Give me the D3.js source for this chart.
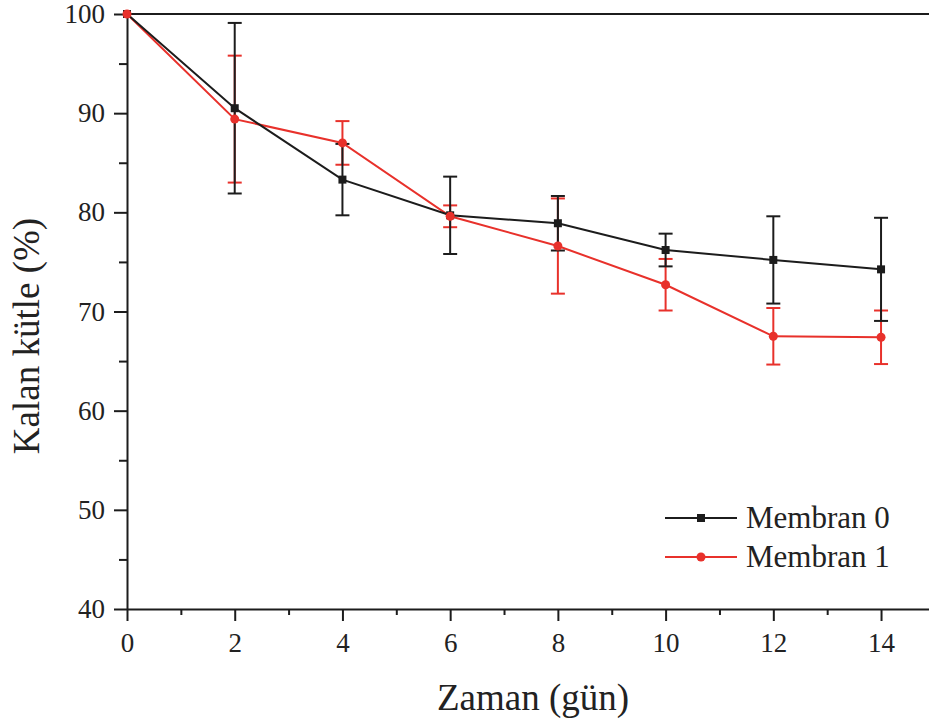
<!DOCTYPE html>
<html>
<head>
<meta charset="utf-8">
<script src="https://cdn.jsdelivr.net/npm/d3@7"></script>
<style>
  html, body { margin: 0; padding: 0; background: #fff; }
  svg { display: block; }
  text { font-family: "Liberation Serif", "Times New Roman", serif; fill: #222; }
</style>
</head>
<body>
<svg id="chart" width="929" height="725"></svg>
<script>
// ---- data ----
const days = [0, 2, 4, 6, 8, 10, 12, 14];
const membran0 = [100, 90.5, 83.3, 79.7, 78.9, 76.2, 75.2, 74.25];
const membran0Err = [0, 8.6, 3.6, 3.9, 2.75, 1.65, 4.4, 5.2];
const membran1 = [100, 89.4, 87.0, 79.6, 76.6, 72.7, 67.5, 67.4];
const membran1Err = [0, 6.4, 2.2, 1.1, 4.8, 2.6, 2.85, 2.7];
const seriesNames = ["Membran 0", "Membran 1"];
const xTicks = [0, 2, 4, 6, 8, 10, 12, 14];
const xMinorTicks = [1, 3, 5, 7, 9, 11, 13];
const yTicks = [40, 50, 60, 70, 80, 90, 100];
const yMinorTicks = [45, 55, 65, 75, 85, 95];
const xLabel = "Zaman (gün)";
const yLabel = "Kalan kütle (%)";

(function () {
// ---- layout ----
const svg = d3.select("#chart");
const mLeft = 127, mTop = 14, mBottom = 609;
const x = d3.scaleLinear().domain([0, 15]).range([mLeft, mLeft + 15 * 53.86]);
const y = d3.scaleLinear().domain([40, 100]).range([mBottom, mTop]);
const black = "#1c1c1c", red = "#e8312b";
const serif = '"Liberation Serif", "Times New Roman", serif';

// top border
svg.append("line").attr("x1", mLeft).attr("x2", 929).attr("y1", mTop).attr("y2", mTop)
  .attr("stroke", black).attr("stroke-width", 2);

// x axis
const gx = svg.append("g").attr("transform", `translate(0,${mBottom})`);
gx.call(d3.axisBottom(x).tickValues(xTicks).tickFormat(d3.format("d")).tickSizeInner(12).tickSizeOuter(0).tickPadding(12));
gx.append("g").call(d3.axisBottom(x).tickValues(xMinorTicks).tickFormat("").tickSizeInner(6).tickSizeOuter(0))
  .select(".domain").remove();
gx.selectAll("line").attr("stroke", black).attr("stroke-width", 2);
gx.select(".domain").attr("stroke", black).attr("stroke-width", 2);
gx.selectAll("text").attr("font-size", 27).attr("fill", "#222").style("font-family", serif);

// y axis
const gy = svg.append("g").attr("transform", `translate(${mLeft},0)`);
gy.call(d3.axisLeft(y).tickValues(yTicks).tickFormat(d3.format("d")).tickSizeInner(13).tickSizeOuter(0).tickPadding(9));
gy.append("g").call(d3.axisLeft(y).tickValues(yMinorTicks).tickFormat("").tickSizeInner(8).tickSizeOuter(0))
  .select(".domain").remove();
gy.selectAll("line").attr("stroke", black).attr("stroke-width", 2);
gy.select(".domain").attr("stroke", black).attr("stroke-width", 2);
gy.selectAll("text").attr("font-size", 27).attr("fill", "#222").style("font-family", serif);

// axis titles
svg.append("text").attr("x", 533).attr("y", 710).attr("text-anchor", "middle")
  .attr("font-size", 37).text(xLabel);
svg.append("text").attr("transform", "translate(39,336) rotate(-90)").attr("text-anchor", "middle")
  .attr("font-size", 37).text(yLabel);

// series
const series = [
  { name: seriesNames[1], vals: membran1, err: membran1Err, color: red, marker: "circle" },
  { name: seriesNames[0], vals: membran0, err: membran0Err, color: black, marker: "square" }
];
const line = d3.line().x((d, i) => x(days[i])).y(d => y(d));
const plot = svg.append("g");
series.forEach(s => {
  plot.append("path").datum(s.vals).attr("d", line)
    .attr("fill", "none").attr("stroke", s.color).attr("stroke-width", 2);
});
series.forEach(s => {
  const g = plot.append("g");
  days.forEach((d, i) => {
    if (s.err[i] <= 0) return;
    const cx = x(d), y1 = y(s.vals[i] + s.err[i]), y2 = y(s.vals[i] - s.err[i]);
    g.append("line").attr("x1", cx).attr("x2", cx).attr("y1", y1).attr("y2", y2)
      .attr("stroke", s.color).attr("stroke-width", 2);
    [y1, y2].forEach(yy => g.append("line").attr("x1", cx - 7).attr("x2", cx + 7)
      .attr("y1", yy).attr("y2", yy).attr("stroke", s.color).attr("stroke-width", 2));
  });
});
function drawMarker(g, type, cx, cy, color) {
  if (type === "square") {
    g.append("rect").attr("x", cx - 4).attr("y", cy - 4).attr("width", 8).attr("height", 8).attr("fill", color);
  } else {
    g.append("circle").attr("cx", cx).attr("cy", cy).attr("r", 4.5).attr("fill", color);
  }
}
[series[1], series[0]].forEach(s => {
  const g = plot.append("g");
  days.forEach((d, i) => drawMarker(g, s.marker, x(d), y(s.vals[i]), s.color));
});

// legend
const legend = svg.append("g");
[{ s: series[1], yy: 518 }, { s: series[0], yy: 557 }].forEach(({ s, yy }) => {
  legend.append("line").attr("x1", 665).attr("x2", 737).attr("y1", yy).attr("y2", yy)
    .attr("stroke", s.color).attr("stroke-width", 2);
  drawMarker(legend, s.marker, 701, yy, s.color);
  legend.append("text").attr("x", 746).attr("y", yy + 10).attr("font-size", 31).text(s.name);
});
})();
</script>
</body>
</html>
